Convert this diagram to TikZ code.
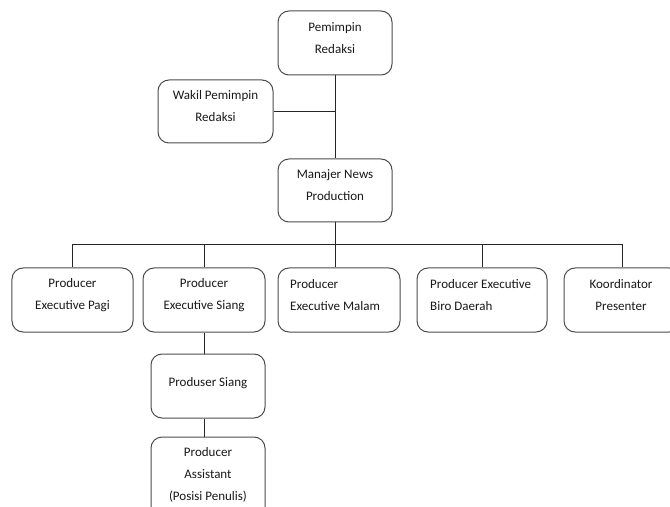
\documentclass[tikz,border=0pt]{standalone}
\usepackage{fontspec}
\setmainfont{Carlito}
\begin{document}
\begin{tikzpicture}[x=1bp,y=-1bp,
  box/.style={draw=black!70, line width=1bp, rounded corners=11bp, inner sep=0pt, fill=white},
  txt/.style={inner sep=0pt, align=center, text=black!90, font=\fontsize{13bp}{22bp}\selectfont},
  ltxt/.style={txt, align=left},
  conn/.style={draw=black!85, line width=1bp}]
\useasboundingbox (0,0) rectangle (670,507);
\clip (0,0) rectangle (670,507);
% boxes
\node[box, minimum width=114bp, minimum height=64bp] (pr) at (335,43) {};
\node[box, minimum width=115bp, minimum height=63bp] (wk) at (215.5,111.5) {};
\node[box, minimum width=114bp, minimum height=63bp] (mn) at (335,190.5) {};
\node[box, minimum width=121bp, minimum height=64bp] (pagi) at (72.5,300) {};
\node[box, minimum width=122bp, minimum height=64bp] (siang) at (204,300) {};
\node[box, minimum width=122bp, minimum height=64bp] (malam) at (339,300) {};
\node[box, minimum width=130bp, minimum height=64bp] (biro) at (482,300) {};
\node[box, minimum width=116bp, minimum height=64bp] (koord) at (622,300) {};
\node[box, minimum width=114bp, minimum height=64bp] (ps) at (208,386) {};
\node[box, minimum width=114bp, minimum height=84bp] (pa) at (208,479) {};
% texts
\node[txt] (prt) at (335,38) {Pemimpin\\Redaksi};
\node[txt] (wkt) at (215.5,106) {Wakil Pemimpin\\Redaksi};
\node[txt] (mnt) at (335,185) {Manajer News\\Production};
\node[txt] (pagit) at (72.5,295) {Producer\\Executive Pagi};
\node[txt] (siangt) at (204,295) {Producer\\Executive Siang};
\node[ltxt, anchor=west] (malamt) at (290,295) {Producer\\Executive Malam};
\node[ltxt, anchor=west] (birot) at (430,295) {Producer Executive\\Biro Daerah};
\node[txt] (koordt) at (621,295) {Koordinator\\Presenter};
\node[txt] (pst) at (208,383) {Produser Siang};
\node[txt] (pat) at (208,475) {Producer\\Assistant\\(Posisi Penulis)};
% connectors
\coordinate (bus) at (335,245);
\draw[conn] (pr.south) -- (mn.north);
\draw[conn] (wk.east) -- (wk.east -| pr.south);
\draw[conn] (mn.south) -- (mn.south |- malam.north);
\draw[conn] (pagi.north) -- (pagi.north |- bus) -- (koord.north |- bus) -- (koord.north);
\draw[conn] (siang.north) -- (siang.north |- bus);
\draw[conn] (biro.north) -- (biro.north |- bus);
\draw[conn] (siang.south) -- (siang.south |- ps.north);
\draw[conn] (siang.south |- ps.south) -- (siang.south |- pa.north);
\end{tikzpicture}
\end{document}
